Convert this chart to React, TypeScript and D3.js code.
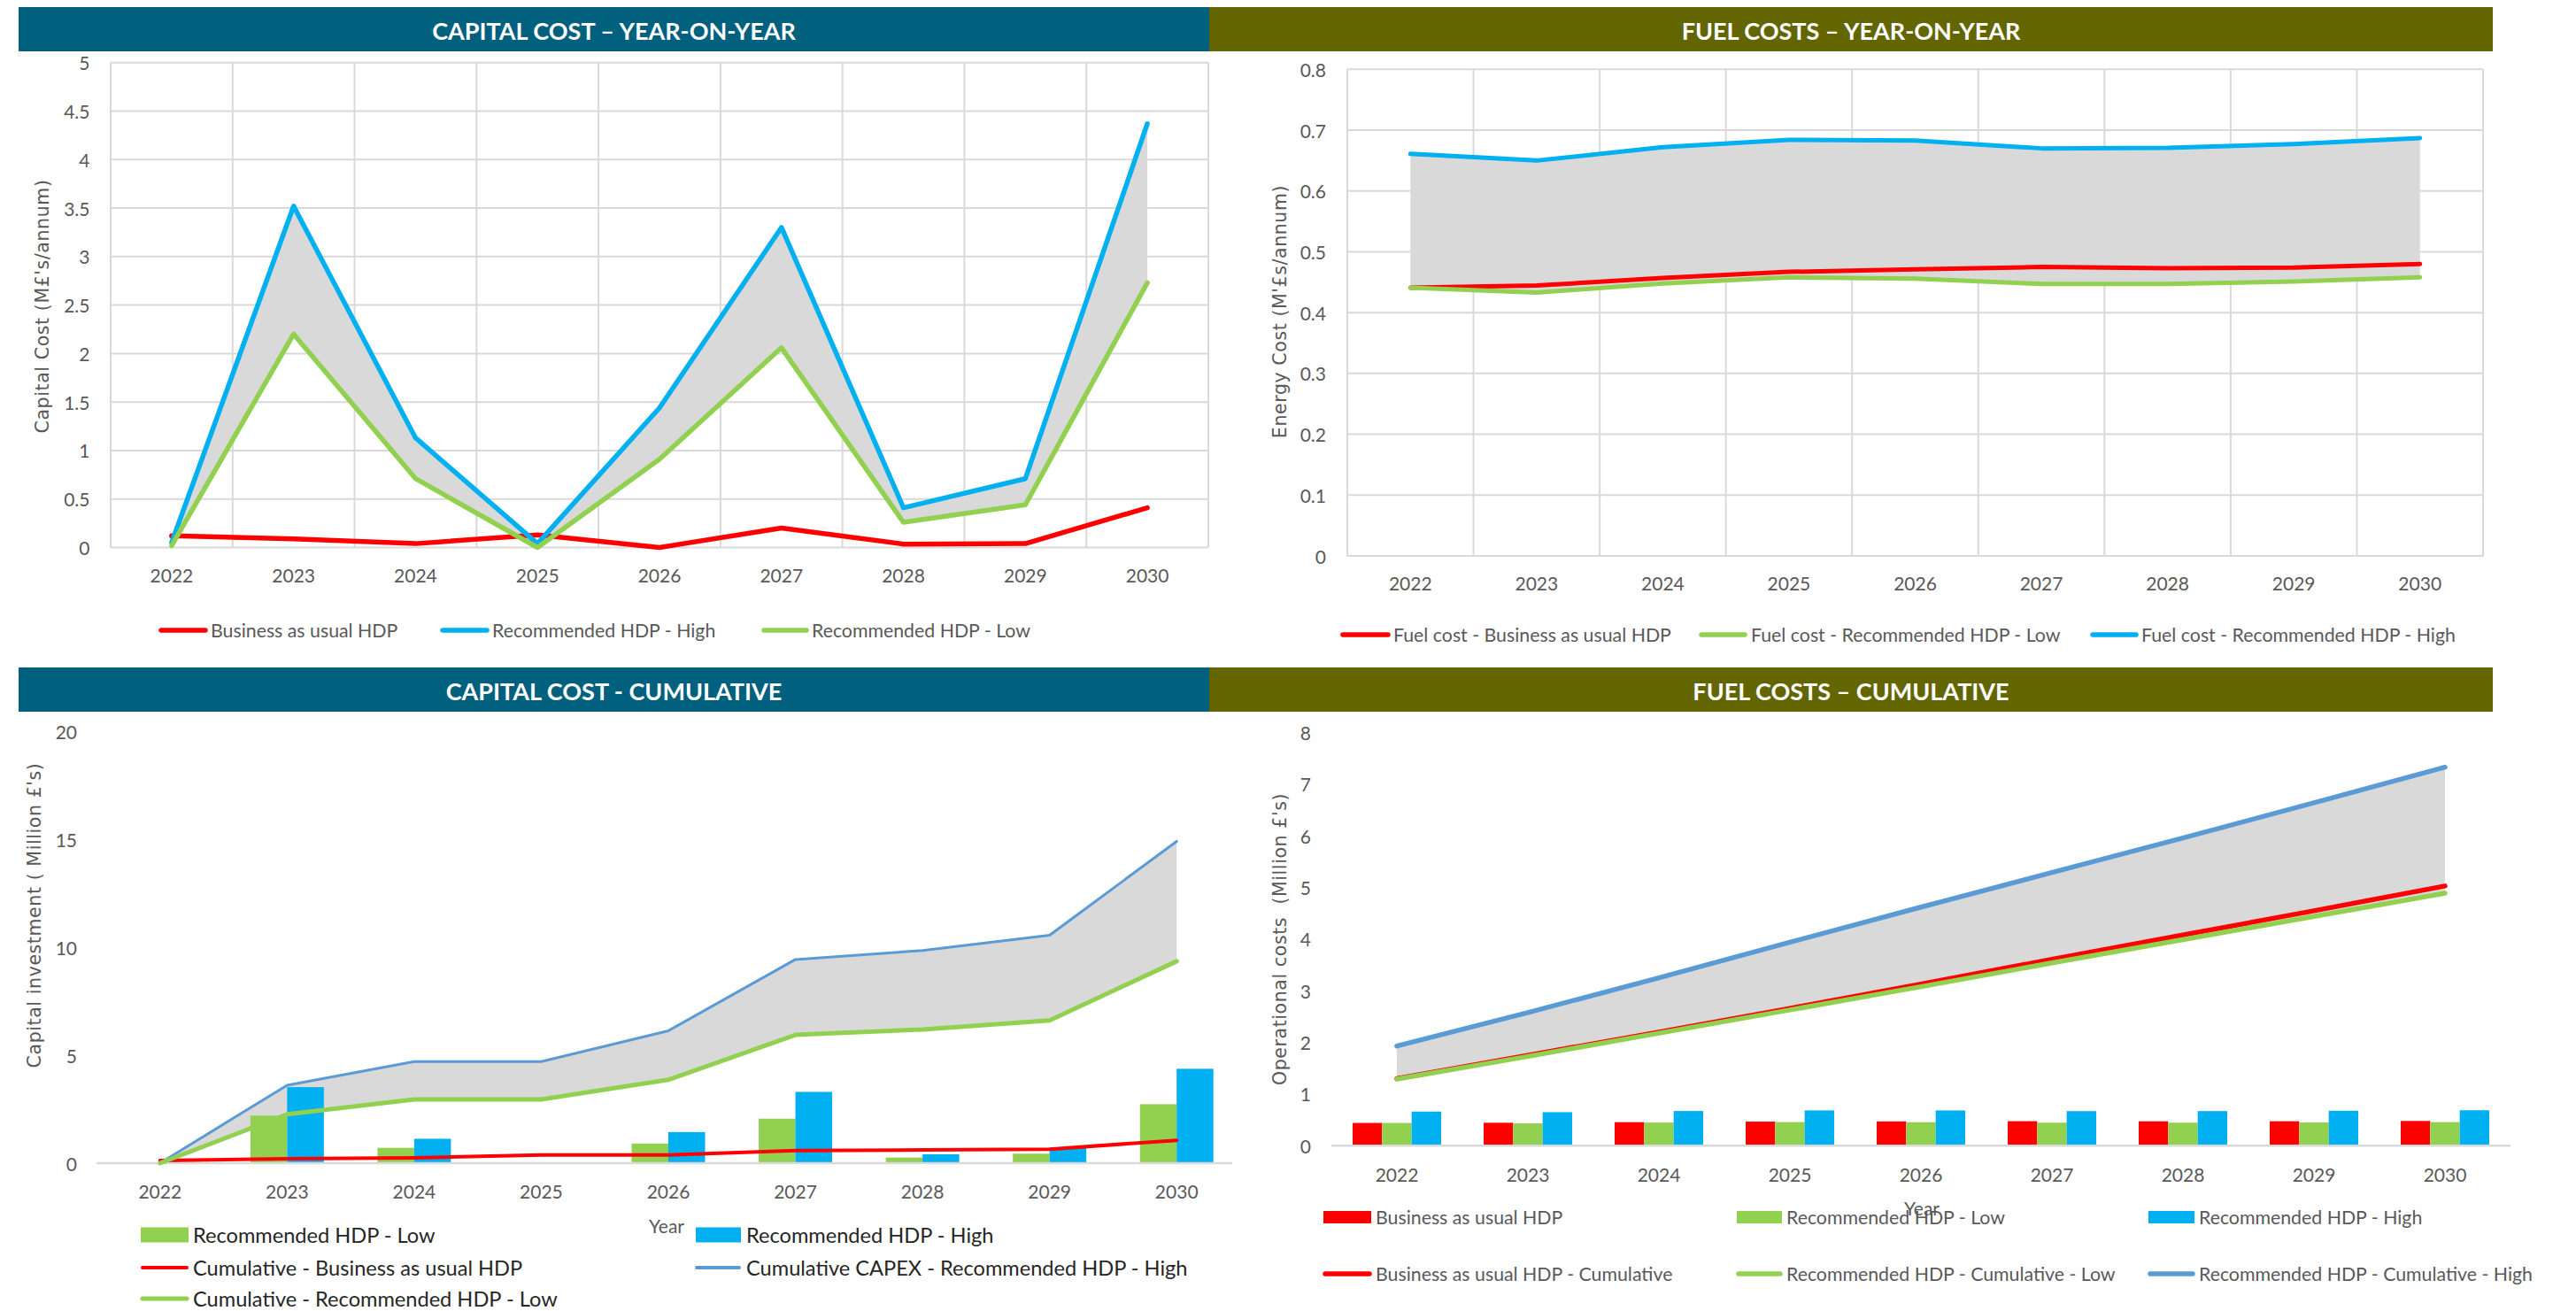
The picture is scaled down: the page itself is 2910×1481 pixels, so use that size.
import React from 'react';
import * as d3 from 'd3';

// ---- data ---------------------------------------------------------------
const years = ['2022', '2023', '2024', '2025', '2026', '2027', '2028', '2029', '2030'];

// Capital cost, year-on-year (M£/annum)
const capexBau = [0.12, 0.09, 0.04, 0.13, 0.0, 0.2, 0.035, 0.04, 0.41];
const capexHigh = [0.05, 3.52, 1.13, 0.04, 1.44, 3.3, 0.41, 0.71, 4.37];
const capexLow = [0.02, 2.2, 0.71, 0.0, 0.91, 2.06, 0.26, 0.44, 2.73];

// Capital cost, cumulative (Million £)
const capexCumBau = [0.12, 0.2, 0.25, 0.38, 0.38, 0.58, 0.61, 0.65, 1.06];
const capexCumHigh = [0.0, 3.61, 4.7, 4.7, 6.13, 9.43, 9.85, 10.55, 14.9];
const capexCumLow = [0.0, 2.26, 2.95, 2.95, 3.86, 5.94, 6.19, 6.61, 9.35];

// Fuel cost, year-on-year (M£/annum)
const fuelBau = [0.441, 0.4445, 0.457, 0.467, 0.471, 0.475, 0.473, 0.474, 0.48];
const fuelLow = [0.441, 0.433, 0.448, 0.458, 0.456, 0.447, 0.447, 0.451, 0.458];
const fuelHigh = [0.661, 0.65, 0.672, 0.684, 0.683, 0.67, 0.671, 0.677, 0.687];

// Fuel cost, cumulative (Million £)
const fuelCumBau = [1.3, 1.75, 2.2, 2.66, 3.13, 3.61, 4.08, 4.55, 5.03];
const fuelCumLow = [1.29, 1.73, 2.18, 2.63, 3.08, 3.54, 3.99, 4.44, 4.89];
const fuelCumHigh = [1.93, 2.58, 3.25, 3.94, 4.62, 5.29, 5.96, 6.64, 7.33];

// axis ticks
const capYearTicks = [0, 0.5, 1, 1.5, 2, 2.5, 3, 3.5, 4, 4.5, 5];
const fuelYearTicks = [0, 0.1, 0.2, 0.3, 0.4, 0.5, 0.6, 0.7, 0.8];
const capCumTicks = [0, 5, 10, 15, 20];
const fuelCumTicks = [0, 1, 2, 3, 4, 5, 6, 7, 8];

// ---- style --------------------------------------------------------------
const RED = '#FF0000';
const SKY = '#00B0F0';
const GREEN = '#92D050';
const STEEL = '#5B9BD5';
const BAND = '#D9D9D9';
const GRID = '#D9D9D9';
const TEXT = '#595959';
const NAVY = '#00607E';
const OLIVE = '#636600';
const FONT = "Lato, 'Open Sans', sans-serif";
const TITLE_FONT = "'DejaVu Sans', Verdana, sans-serif";

const fmt = (v: number) => String(Math.round(v * 10) / 10);

type Scale = d3.ScaleBand<string>;

const centre = (x: Scale, i: number) => (x(years[i]) as number) + x.bandwidth() / 2;

function pathOf(x: Scale, y: d3.ScaleLinear<number, number>, vals: number[]) {
  return d3
    .line<number>()
    .x((_, i) => centre(x, i))
    .y((d) => y(d))(vals) as string;
}

function bandOf(x: Scale, y: d3.ScaleLinear<number, number>, hi: number[], lo: number[]) {
  return d3
    .area<number>()
    .x((_, i) => centre(x, i))
    .y0((_, i) => y(lo[i]))
    .y1((d) => y(d))(hi) as string;
}

function Header({ x0, x1, y0, y1, fill, label }: { x0: number; x1: number; y0: number; y1: number; fill: string; label: string }) {
  return (
    <g>
      <rect x={x0} y={y0} width={x1 - x0} height={y1 - y0} fill={fill} />
      <text
        x={(x0 + x1) / 2}
        y={(y0 + y1) / 2 + 1}
        textAnchor="middle"
        dominantBaseline="central"
        fill="#FFFFFF"
        fontFamily={FONT}
        fontWeight={700}
        fontSize={27}
      >
        {label}
      </text>
    </g>
  );
}

function YTitle({ x, y, label }: { x: number; y: number; label: string }) {
  return (
    <text
      transform={`translate(${x},${y}) rotate(-90)`}
      textAnchor="middle"
      dominantBaseline="central"
      fill={TEXT}
      fontFamily={TITLE_FONT}
      fontSize={20.5}
      letterSpacing={0.6}
      style={{ whiteSpace: 'pre' }}
    >
      {label}
    </text>
  );
}

function LineKey({ x0, x1, y, color, width, label, tx, textColor = TEXT, size = 21.3 }: any) {
  return (
    <g>
      <line x1={x0} x2={x1} y1={y} y2={y} stroke={color} strokeWidth={width} strokeLinecap="round" />
      <text x={tx} y={y} dominantBaseline="central" fill={textColor} fontFamily={FONT} fontSize={size}>
        {label}
      </text>
    </g>
  );
}

function BoxKey({ x0, x1, y, h, color, label, tx, textColor = TEXT, size = 21.3 }: any) {
  return (
    <g>
      <rect x={x0} y={y - h / 2} width={x1 - x0} height={h} fill={color} />
      <text x={tx} y={y} dominantBaseline="central" fill={textColor} fontFamily={FONT} fontSize={size}>
        {label}
      </text>
    </g>
  );
}

// ---- panel: capital cost, year-on-year -----------------------------------
function CapexYearly() {
  const x = d3.scaleBand<string>().domain(years).range([125, 1365]);
  const y = d3.scaleLinear().domain([0, 5]).range([618.5, 70.7]);
  const edges = [...years.map((d) => x(d) as number), 1365];
  return (
    <g>
      <Header x0={21} x1={1366} y0={8} y1={58} fill={NAVY} label="CAPITAL COST – YEAR-ON-YEAR" />
      {capYearTicks.map((t) => (
        <line key={t} x1={125} x2={1365} y1={y(t)} y2={y(t)} stroke={GRID} strokeWidth={2} />
      ))}
      {edges.map((e) => (
        <line key={e} x1={e} x2={e} y1={y(5)} y2={y(0)} stroke={GRID} strokeWidth={2} />
      ))}
      {capYearTicks.map((t) => (
        <text key={t} x={101.5} y={y(t)} textAnchor="end" dominantBaseline="central" fill={TEXT} fontFamily={FONT} fontSize={21}>
          {fmt(t)}
        </text>
      ))}
      {years.map((d, i) => (
        <text key={d} x={centre(x, i)} y={649} textAnchor="middle" dominantBaseline="central" fill={TEXT} fontFamily={FONT} fontSize={21}>
          {d}
        </text>
      ))}
      <path d={bandOf(x, y, capexHigh, capexLow)} fill={BAND} />
      <path d={pathOf(x, y, capexBau)} fill="none" stroke={RED} strokeWidth={5.5} strokeLinecap="round" strokeLinejoin="round" />
      <path d={pathOf(x, y, capexHigh)} fill="none" stroke={SKY} strokeWidth={5.5} strokeLinecap="round" strokeLinejoin="round" />
      <path d={pathOf(x, y, capexLow)} fill="none" stroke={GREEN} strokeWidth={5.5} strokeLinecap="round" strokeLinejoin="round" />
      <YTitle x={48} y={346} label="Capital Cost (M£'s/annum)" />
      <LineKey x0={182} x1={232} y={712} color={RED} width={5.5} tx={238} label="Business as usual HDP" />
      <LineKey x0={500} x1={550} y={712} color={SKY} width={5.5} tx={556} label="Recommended HDP - High" />
      <LineKey x0={863} x1={911} y={712} color={GREEN} width={5.5} tx={917} label="Recommended HDP - Low" />
    </g>
  );
}

// ---- panel: fuel costs, year-on-year --------------------------------------
function FuelYearly() {
  const x = d3.scaleBand<string>().domain(years).range([1522, 2805]);
  const y = d3.scaleLinear().domain([0, 0.8]).range([628, 78.3]);
  const edges = [...years.map((d) => x(d) as number), 2805];
  return (
    <g>
      <Header x0={1366} x1={2816} y0={8} y1={58} fill={OLIVE} label="FUEL COSTS – YEAR-ON-YEAR" />
      {fuelYearTicks.map((t) => (
        <line key={t} x1={1522} x2={2805} y1={y(t)} y2={y(t)} stroke={GRID} strokeWidth={2} />
      ))}
      {edges.map((e) => (
        <line key={e} x1={e} x2={e} y1={y(0.8)} y2={y(0)} stroke={GRID} strokeWidth={2} />
      ))}
      {fuelYearTicks.map((t) => (
        <text key={t} x={1498} y={y(t)} textAnchor="end" dominantBaseline="central" fill={TEXT} fontFamily={FONT} fontSize={21}>
          {fmt(t)}
        </text>
      ))}
      {years.map((d, i) => (
        <text key={d} x={centre(x, i)} y={658} textAnchor="middle" dominantBaseline="central" fill={TEXT} fontFamily={FONT} fontSize={21}>
          {d}
        </text>
      ))}
      <path d={bandOf(x, y, fuelHigh, fuelLow)} fill={BAND} />
      <path d={pathOf(x, y, fuelBau)} fill="none" stroke={RED} strokeWidth={5} strokeLinecap="round" strokeLinejoin="round" />
      <path d={pathOf(x, y, fuelLow)} fill="none" stroke={GREEN} strokeWidth={5} strokeLinecap="round" strokeLinejoin="round" />
      <path d={pathOf(x, y, fuelHigh)} fill="none" stroke={SKY} strokeWidth={5} strokeLinecap="round" strokeLinejoin="round" />
      <YTitle x={1446} y={352} label="Energy Cost (M'£s/annum)" />
      <LineKey x0={1517} x1={1568} y={717} color={RED} width={5.5} tx={1574} label="Fuel cost - Business as usual HDP" />
      <LineKey x0={1922} x1={1971} y={717} color={GREEN} width={5.5} tx={1978} label="Fuel cost - Recommended HDP - Low" />
      <LineKey x0={2364} x1={2413} y={717} color={SKY} width={5.5} tx={2419} label="Fuel cost - Recommended HDP - High" />
    </g>
  );
}

// ---- panel: capital cost, cumulative ---------------------------------------
function CapexCumulative() {
  const x = d3.scaleBand<string>().domain(years).range([109, 1401]).paddingInner(0.422).paddingOuter(0.211);
  const sub = d3.scaleBand<string>().domain(['low', 'high']).range([0, x.bandwidth()]);
  const y = d3.scaleLinear().domain([0, 20]).range([1314, 826]);
  const gx = d3.scaleBand<string>().domain(years).range([109, 1401]);
  const keySize = 23.6;
  return (
    <g>
      <Header x0={21} x1={1366} y0={754} y1={804} fill={NAVY} label="CAPITAL COST - CUMULATIVE" />
      {capCumTicks.map((t) => (
        <text key={t} x={87} y={y(t)} textAnchor="end" dominantBaseline="central" fill={TEXT} fontFamily={FONT} fontSize={21}>
          {fmt(t)}
        </text>
      ))}
      {years.map((d, i) => (
        <text key={d} x={centre(gx, i)} y={1345} textAnchor="middle" dominantBaseline="central" fill={TEXT} fontFamily={FONT} fontSize={21}>
          {d}
        </text>
      ))}
      <path d={bandOf(gx, y, capexCumHigh, capexCumLow)} fill={BAND} />
      {years.map((d, i) => (
        <g key={d}>
          <rect x={(x(d) as number) + (sub('low') as number)} y={y(capexLow[i])} width={sub.bandwidth()} height={y(0) - y(capexLow[i])} fill={GREEN} />
          <rect x={(x(d) as number) + (sub('high') as number)} y={y(capexHigh[i])} width={sub.bandwidth()} height={y(0) - y(capexHigh[i])} fill={SKY} />
        </g>
      ))}
      <line x1={109} x2={1392} y1={y(0)} y2={y(0)} stroke={GRID} strokeWidth={2.5} />
      <path d={pathOf(gx, y, capexCumBau)} fill="none" stroke={RED} strokeWidth={4} strokeLinecap="round" strokeLinejoin="round" />
      <path d={pathOf(gx, y, capexCumHigh)} fill="none" stroke={STEEL} strokeWidth={3} strokeLinecap="round" strokeLinejoin="round" />
      <path d={pathOf(gx, y, capexCumLow)} fill="none" stroke={GREEN} strokeWidth={5} strokeLinecap="round" strokeLinejoin="round" />
      <YTitle x={39} y={1034} label="Capital investment ( Million £'s)" />
      <text x={753} y={1384} textAnchor="middle" dominantBaseline="central" fill={TEXT} fontFamily={FONT} fontSize={21}>
        Year
      </text>
      <BoxKey x0={159} x1={213} y={1395} h={17} color={GREEN} tx={218} size={keySize} textColor="#262626" label="Recommended HDP - Low" />
      <BoxKey x0={786} x1={837} y={1395} h={17} color={SKY} tx={843} size={keySize} textColor="#262626" label="Recommended HDP - High" />
      <LineKey x0={161} x1={211} y={1432} color={RED} width={4} tx={218} size={keySize} textColor="#262626" label="Cumulative - Business as usual HDP" />
      <LineKey x0={787} x1={835} y={1432} color={STEEL} width={4} tx={843} size={keySize} textColor="#262626" label="Cumulative CAPEX - Recommended HDP - High" />
      <LineKey x0={161} x1={211} y={1467} color={GREEN} width={5} tx={218} size={keySize} textColor="#262626" label="Cumulative - Recommended HDP - Low" />
    </g>
  );
}

// ---- panel: fuel costs, cumulative -----------------------------------------
function FuelCumulative() {
  const x = d3.scaleBand<string>().domain(years).range([1504, 2836]).paddingInner(0.324).paddingOuter(0.162);
  const sub = d3.scaleBand<string>().domain(['bau', 'low', 'high']).range([0, x.bandwidth()]);
  const y = d3.scaleLinear().domain([0, 8]).range([1294.3, 827.6]);
  const gx = d3.scaleBand<string>().domain(years).range([1504, 2836]);
  const bars: [string, number[], string][] = [
    ['bau', fuelBau, RED],
    ['low', fuelLow, GREEN],
    ['high', fuelHigh, SKY],
  ];
  return (
    <g>
      <Header x0={1366} x1={2816} y0={754} y1={804} fill={OLIVE} label="FUEL COSTS – CUMULATIVE" />
      {fuelCumTicks.map((t) => (
        <text key={t} x={1481} y={y(t)} textAnchor="end" dominantBaseline="central" fill={TEXT} fontFamily={FONT} fontSize={21}>
          {fmt(t)}
        </text>
      ))}
      {years.map((d, i) => (
        <text key={d} x={centre(gx, i)} y={1326} textAnchor="middle" dominantBaseline="central" fill={TEXT} fontFamily={FONT} fontSize={21}>
          {d}
        </text>
      ))}
      <path d={bandOf(gx, y, fuelCumHigh, fuelCumLow)} fill={BAND} />
      {years.map((d, i) => (
        <g key={d}>
          {bars.map(([k, vals, c]) => (
            <rect key={k} x={(x(d) as number) + (sub(k) as number)} y={y(vals[i])} width={sub.bandwidth()} height={y(0) - y(vals[i])} fill={c} />
          ))}
        </g>
      ))}
      <line x1={1504} x2={2836} y1={y(0)} y2={y(0)} stroke={GRID} strokeWidth={2.5} />
      <path d={pathOf(gx, y, fuelCumBau)} fill="none" stroke={RED} strokeWidth={5.5} strokeLinecap="round" strokeLinejoin="round" />
      <path d={pathOf(gx, y, fuelCumLow)} fill="none" stroke={GREEN} strokeWidth={5.5} strokeLinecap="round" strokeLinejoin="round" />
      <path d={pathOf(gx, y, fuelCumHigh)} fill="none" stroke={STEEL} strokeWidth={5.5} strokeLinecap="round" strokeLinejoin="round" />
      <YTitle x={1446} y={1061} label="Operational costs  (Million £'s)" />
      <BoxKey x0={1495} x1={1549} y={1375} h={14} color={RED} tx={1554} label="Business as usual HDP" />
      <BoxKey x0={1962} x1={2013} y={1375} h={14} color={GREEN} tx={2018} label="Recommended HDP - Low" />
      <BoxKey x0={2427} x1={2479} y={1375} h={14} color={SKY} tx={2484} label="Recommended HDP - High" />
      <LineKey x0={1497} x1={1547} y={1439} color={RED} width={5.5} tx={1554} label="Business as usual HDP - Cumulative" />
      <LineKey x0={1964} x1={2011} y={1439} color={GREEN} width={5.5} tx={2018} label="Recommended HDP - Cumulative - Low" />
      <LineKey x0={2429} x1={2477} y={1439} color={STEEL} width={5.5} tx={2484} label="Recommended HDP - Cumulative - High" />
      <text x={2171} y={1364} textAnchor="middle" dominantBaseline="central" fill={TEXT} fontFamily={FONT} fontSize={21}>
        Year
      </text>
    </g>
  );
}

export default function App() {
  return (
    <svg
      width={2910}
      height={1481}
      viewBox="0 0 2910 1481"
      style={{ position: 'absolute', left: 0, top: 0, background: '#FFFFFF' }}
    >
      <rect width={2910} height={1481} fill="#FFFFFF" />
      <CapexYearly />
      <FuelYearly />
      <CapexCumulative />
      <FuelCumulative />
    </svg>
  );
}
